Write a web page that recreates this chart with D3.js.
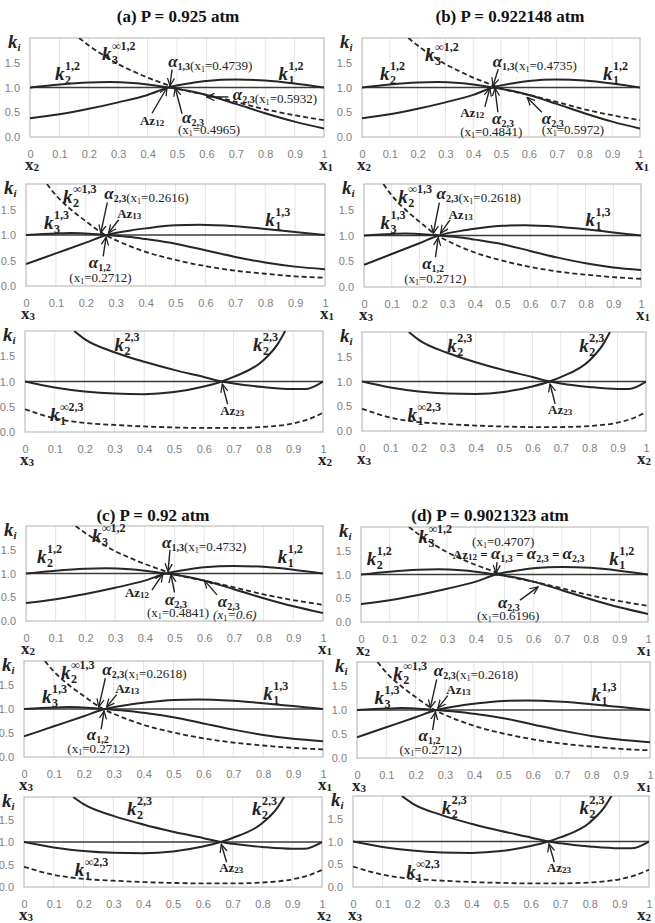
<!DOCTYPE html>
<html>
<head>
<meta charset="utf-8">
<title>k-value diagrams</title>
<script src="https://cdnjs.cloudflare.com/ajax/libs/d3/7.8.5/d3.min.js"></script>
<style>
body{margin:0;background:#fff;}
.kk{font-family:"Liberation Serif",serif;font-weight:bold;font-style:italic;font-size:19px;fill:#222;}
.ss{font-family:"Liberation Serif",serif;font-weight:bold;font-size:12px;fill:#222;}
.ttl{font-family:"Liberation Serif",serif;font-weight:bold;font-size:17px;fill:#111;}
.ser{font-family:"Liberation Serif",serif;fill:#222;}
</style>
</head>
<body>
<script>

// ticks
var xTickVals = [0,0.1,0.2,0.3,0.4,0.5,0.6,0.7,0.8,0.9,1];
var xTickLabels = ["0","0.1","0.2","0.3","0.4","0.5","0.6","0.7","0.8","0.9","1"];
var yTickVals = [0,0.5,1,1.5];
var yTickLabels = ["0.0","0.5","1.0","1.5"];

// binary 1-2 (x axis = x1)
var k1_12X = [0,0.1,0.2,0.3,0.4,0.47,0.55,0.6,0.7,0.8,0.9,1];
var k1_12Y = [0.38,0.46,0.57,0.70,0.85,1.0,1.09,1.13,1.16,1.14,1.08,1.0];
var k2_12X = [0,0.1,0.2,0.27,0.35,0.47,0.55,0.6,0.7,0.8,0.9,1];
var k2_12Y = [1.0,1.06,1.1,1.11,1.09,1.0,0.92,0.85,0.67,0.48,0.31,0.17];
var k3inf_12X = [0.167,0.2,0.25,0.3,0.35,0.4,0.45,0.49,0.55,0.6,0.7,0.8,0.9,1];
var k3inf_12Y = [2.0,1.85,1.65,1.47,1.33,1.2,1.09,1.0,0.91,0.85,0.71,0.56,0.44,0.34];

// binary 1-3 (x axis = x1)
var k1_13X = [0,0.1,0.2,0.27,0.35,0.4,0.5,0.58,0.7,0.8,0.9,1];
var k1_13Y = [0.43,0.64,0.85,1.0,1.09,1.13,1.19,1.2,1.17,1.12,1.06,1.0];
var k3_13X = [0,0.1,0.15,0.2,0.27,0.35,0.4,0.5,0.6,0.7,0.8,0.9,1];
var k3_13Y = [1.0,1.03,1.04,1.03,1.0,0.96,0.92,0.83,0.7,0.57,0.46,0.38,0.33];
var k2inf_13X = [0.07,0.1,0.15,0.2,0.265,0.3,0.4,0.5,0.6,0.7,0.8,0.9,1];
var k2inf_13Y = [2.0,1.78,1.5,1.27,1.0,0.9,0.67,0.51,0.39,0.3,0.24,0.19,0.16];

// binary 2-3 (x axis = x2)
var k2a_23X = [0.165,0.2,0.3,0.4,0.5,0.6,0.66,0.7,0.8,0.9,0.94,1];
var k2a_23Y = [2.0,1.84,1.58,1.39,1.23,1.09,1.0,0.96,0.89,0.85,0.85,1.0];
var k2b_23X = [0,0.1,0.2,0.3,0.4,0.5,0.6,0.66,0.7,0.8,0.85,0.873];
var k2b_23Y = [1.0,0.88,0.8,0.76,0.75,0.79,0.9,1.0,1.09,1.42,1.76,2.0];
var k1inf_23X = [0,0.1,0.2,0.3,0.4,0.5,0.6,0.7,0.8,0.9,0.95,1];
var k1inf_23Y = [0.45,0.27,0.18,0.14,0.11,0.09,0.08,0.08,0.1,0.17,0.25,0.38];

var topSeries = [[k1_12X,k1_12Y,false],[k2_12X,k2_12Y,false],[k3inf_12X,k3inf_12Y,true]];
var midSeries = [[k1_13X,k1_13Y,false],[k3_13X,k3_13Y,false],[k2inf_13X,k2inf_13Y,true]];
var botSeries = [[k2a_23X,k2a_23Y,false],[k2b_23X,k2b_23Y,false],[k1inf_23X,k1inf_23Y,true]];

// annotations (data coords)
var notesATop = [
  {t:"k",x:0.085,y:1.15,sub:"2",sup:"1,2"},
  {t:"k",x:0.245,y:1.56,sub:"3",sup:"\u221e1,2"},
  {t:"k",x:0.845,y:1.15,sub:"1",sup:"1,2"},
  {t:"a",x:0.47,y:1.41,sub:"1,3",v:"0.4739"},
  {t:"arr",x1:0.483,y1:1.36,x2:0.476,y2:1.03},
  {t:"az",x:0.374,y:0.24,sub:"12"},
  {t:"arr",x1:0.415,y1:0.48,x2:0.466,y2:1.0},
  {t:"a",x:0.517,y:0.28,sub:"2,3"},
  {t:"n",x:0.503,y:0.06,v:"0.4965"},
  {t:"arr",x1:0.517,y1:0.47,x2:0.494,y2:0.99},
  {t:"a",x:0.69,y:0.75,sub:"2,3",v:"0.5932"},
  {t:"arr",x1:0.675,y1:0.81,x2:0.6,y2:0.81}
];
var notesBTop = [
  {t:"k",x:0.065,y:1.15,sub:"2",sup:"1,2"},
  {t:"k",x:0.227,y:1.54,sub:"3",sup:"\u221e1,2"},
  {t:"k",x:0.867,y:1.15,sub:"1",sup:"1,2"},
  {t:"a",x:0.47,y:1.41,sub:"1,3",v:"0.4735"},
  {t:"arr",x1:0.49,y1:1.37,x2:0.471,y2:1.03},
  {t:"az",x:0.353,y:0.40,sub:"12"},
  {t:"arr",x1:0.442,y1:0.61,x2:0.46,y2:0.99},
  {t:"a",x:0.468,y:0.26,sub:"2,3"},
  {t:"n",x:0.353,y:0.02,v:"0.4841"},
  {t:"arr",x1:0.489,y1:0.5,x2:0.478,y2:0.99},
  {t:"a",x:0.647,y:0.26,sub:"2,3"},
  {t:"n",x:0.647,y:0.06,v:"0.5972"},
  {t:"arr",x1:0.647,y1:0.5,x2:0.594,y2:0.8}
];
var notesCTop = [
  {t:"k",x:0.037,y:1.22,sub:"2",sup:"1,2"},
  {t:"k",x:0.222,y:1.66,sub:"3",sup:"\u221e1,2"},
  {t:"k",x:0.848,y:1.22,sub:"1",sup:"1,2"},
  {t:"a",x:0.458,y:1.54,sub:"1,3",v:"0.4732"},
  {t:"arr",x1:0.485,y1:1.5,x2:0.478,y2:1.04},
  {t:"az",x:0.333,y:0.5,sub:"12"},
  {t:"arr",x1:0.424,y1:0.65,x2:0.461,y2:0.99},
  {t:"a",x:0.468,y:0.34,sub:"2,3"},
  {t:"n",x:0.407,y:0.08,v:"0.4841"},
  {t:"arr",x1:0.5,y1:0.6,x2:0.488,y2:0.98},
  {t:"a",x:0.646,y:0.29,sub:"2,3"},
  {t:"n",x:0.63,y:0.05,v:"0.6",it:true},
  {t:"arr",x1:0.643,y1:0.55,x2:0.6,y2:0.86}
];
var notesDTop = [
  {t:"k",x:0.02,y:1.2,sub:"2",sup:"1,2"},
  {t:"k",x:0.2,y:1.66,sub:"3",sup:"\u221e1,2"},
  {t:"k",x:0.865,y:1.2,sub:"1",sup:"1,2"},
  {t:"n",x:0.387,y:1.6,v:"0.4707"},
  {t:"eq",x:0.32,y:1.33},
  {t:"arr",x1:0.474,y1:1.26,x2:0.47,y2:1.03},
  {t:"a",x:0.477,y:0.29,sub:"2,3"},
  {t:"n",x:0.404,y:0.05,v:"0.6196"},
  {t:"arr",x1:0.554,y1:0.46,x2:0.617,y2:0.74}
];
function midNotes(v){
  return [
    {t:"k",x:0.124,y:1.63,sub:"2",sup:"\u221e1,3"},
    {t:"k",x:0.06,y:1.12,sub:"3",sup:"1,3"},
    {t:"k",x:0.8,y:1.18,sub:"1",sup:"1,3"},
    {t:"a",x:0.262,y:1.70,sub:"2,3",v:v},
    {t:"arr",x1:0.272,y1:1.64,x2:0.25,y2:1.04},
    {t:"az",x:0.305,y:1.33,sub:"13"},
    {t:"arr",x1:0.31,y1:1.3,x2:0.276,y2:1.04},
    {t:"a",x:0.21,y:0.35,sub:"1,2"},
    {t:"n",x:0.145,y:0.08,v:"0.2712"},
    {t:"arr",x1:0.258,y1:0.58,x2:0.268,y2:0.96}
  ];
}
function botNotes(k2x,kinfx,kinfy){
  return [
    {t:"k",x:k2x,y:1.6,sub:"2",sup:"2,3"},
    {t:"k",x:0.765,y:1.6,sub:"2",sup:"2,3"},
    {t:"az",x:0.655,y:0.34,sub:"23"},
    {t:"arr",x1:0.68,y1:0.55,x2:0.662,y2:0.95},
    {t:"k",x:kinfx,y:kinfy,sub:"1",sup:"\u221e2,3"}
  ];
}

var panels = [
  {box:[30,38,324,137],  s:topSeries, ends:["2","1"], notes:notesATop},
  {box:[26,184,325,286], s:midSeries, ends:["3","1"], notes:midNotes("0.2616")},
  {box:[25,331,323,432], s:botSeries, ends:["3","2"], notes:botNotes(0.30,0.084,0.22)},
  {box:[362,38,640,137], s:topSeries, ends:["2","1"], notes:notesBTop},
  {box:[364,184,641,287],s:midSeries, ends:["3","1"], notes:midNotes("0.2618")},
  {box:[362,332,646,431],s:botSeries, ends:["3","2"], notes:botNotes(0.30,0.16,0.2)},
  {box:[26,526,323,621], s:topSeries, ends:["2","1"], notes:notesCTop},
  {box:[24,661,323,757], s:midSeries, ends:["3","1"], notes:midNotes("0.2618")},
  {box:[24,797,322,887], s:botSeries, ends:["3","2"], notes:botNotes(0.346,0.17,0.25)},
  {box:[361,527,648,622],s:topSeries, ends:["2","1"], notes:notesDTop},
  {box:[357,662,650,758],s:midSeries, ends:["3","1"], notes:midNotes("0.2618")},
  {box:[353,796,649,887],s:botSeries, ends:["3","2"], notes:botNotes(0.30,0.18,0.2)}
];

var titles = [
  {text:"(a) P = 0.925 atm", x:178, y:22},
  {text:"(b) P = 0.922148 atm", x:510, y:22},
  {text:"(c) P = 0.92 atm", x:153, y:521},
  {text:"(d) P = 0.9021323 atm", x:490, y:521}
];

var svg = d3.select("body").append("svg")
  .attr("width",655).attr("height",923)
  .style("background","#fff");
var defs = svg.append("defs");
defs.append("marker").attr("id","ah")
  .attr("viewBox","0 -5 10 10").attr("refX",9).attr("refY",0)
  .attr("markerWidth",9).attr("markerHeight",9)
  .attr("markerUnits","userSpaceOnUse").attr("orient","auto")
  .append("path").attr("d","M0,-4L9,0L0,4")
  .attr("fill","none").attr("stroke","#222").attr("stroke-width",1.4);

svg.selectAll(".ttl").data(titles).join("text")
  .attr("class","ttl").attr("text-anchor","middle")
  .attr("x",function(d){return d.x}).attr("y",function(d){return d.y})
  .text(function(d){return d.text});

function xNote(t, v, size, it){
  t.append("tspan").attr("font-size",size).attr("font-weight","normal")
    .attr("font-style",it?"italic":"normal").text("(x");
  t.append("tspan").attr("font-size",size*0.62).attr("font-weight","normal").attr("dy",2).text("1");
  t.append("tspan").attr("font-size",size).attr("font-weight","normal")
    .attr("font-style",it?"italic":"normal").attr("dy",-2).text("="+v+")");
}
function alpha(t, sub, dyBack){
  t.append("tspan").attr("font-size",17).attr("font-weight","bold").attr("font-style","italic")
    .attr("dy",dyBack).text("\u03b1");
  t.append("tspan").attr("font-size",10).attr("font-weight","bold").attr("font-style","normal")
    .attr("dy",3).text(sub);
}

panels.forEach(function(p, i){
  var L=p.box[0], T=p.box[1], R=p.box[2], B=p.box[3];
  var x = d3.scaleLinear().domain([0,1]).range([L,R]);
  var y = d3.scaleLinear().domain([0,2]).range([B,T]);
  var g = svg.append("g");

  defs.append("clipPath").attr("id","clip"+i)
    .append("rect").attr("x",L).attr("y",T).attr("width",R-L).attr("height",B-T);

  // vertical grid
  g.selectAll(".vg").data(xTickVals.slice(1,-1)).join("line")
    .attr("x1",function(d){return x(d)}).attr("x2",function(d){return x(d)})
    .attr("y1",T).attr("y2",B).attr("stroke","#e4e4e4").attr("stroke-width",1);

  g.append("rect").attr("x",L).attr("y",T).attr("width",R-L).attr("height",B-T)
    .attr("fill","none").attr("stroke","#bdbdbd").attr("stroke-width",1.2);

  // k = 1 line
  g.append("line").attr("x1",x(0)).attr("x2",x(1)).attr("y1",y(1)).attr("y2",y(1))
    .attr("stroke","#3a3a3a").attr("stroke-width",1.3);

  var line = d3.line()
    .x(function(d){return x(d[0])}).y(function(d){return y(d[1])})
    .curve(d3.curveMonotoneX);
  var cg = g.append("g").attr("clip-path","url(#clip"+i+")");
  p.s.forEach(function(s){
    var pts = s[0].map(function(v,j){return [v, s[1][j]]});
    cg.append("path").attr("d",line(pts)).attr("fill","none")
      .attr("stroke","#262626").attr("stroke-width",s[2]?1.8:2)
      .attr("stroke-dasharray",s[2]?"5,3":null);
  });

  // axes
  var ax = g.append("g").attr("transform","translate(0,"+B+")")
    .call(d3.axisBottom(x).tickValues(xTickVals)
      .tickFormat(function(d,j){return xTickLabels[j]}).tickSize(0).tickPadding(13));
  ax.select(".domain").remove();
  ax.selectAll("text").attr("fill","#808080").attr("font-size",11)
    .attr("font-family","'Liberation Sans',Arial,sans-serif");

  var ay = g.append("g").attr("transform","translate("+L+",0)")
    .call(d3.axisLeft(y).tickValues(yTickVals)
      .tickFormat(function(d,j){return yTickLabels[j]}).tickSize(0).tickPadding(10));
  ay.select(".domain").remove();
  ay.selectAll("text").attr("fill","#808080").attr("font-size",11)
    .attr("font-family","'Liberation Sans',Arial,sans-serif");

  // k_i label
  var ki = g.append("text").attr("class","kk").attr("x",L-22).attr("y",T+10).attr("font-size",17).text("k");
  ki.append("tspan").attr("font-size",11).attr("dy",3).text("i");

  // x end labels
  p.ends.forEach(function(e, j){
    var t = g.append("text").attr("class","ser").attr("font-weight","bold")
      .attr("x", j===0 ? L-5 : Math.min(R-5, 637)).attr("y",B+33);
    t.append("tspan").attr("font-size",17).text("x");
    t.append("tspan").attr("font-size",11).attr("dy",1).text(e);
  });

  // annotations
  var ng = g.append("g");
  p.notes.forEach(function(n){
    if(n.t==="k"){
      var px=x(n.x), py=y(n.y);
      ng.append("text").attr("class","kk").attr("x",px).attr("y",py).text("k");
      ng.append("text").attr("class","ss").attr("x",px+10).attr("y",py-10).text(n.sup);
      ng.append("text").attr("class","ss").attr("x",px+10).attr("y",py+4).text(n.sub);
    } else if(n.t==="a"){
      var t = ng.append("text").attr("class","ser").attr("x",x(n.x)).attr("y",y(n.y));
      alpha(t, n.sub, 0);
      if(n.v){ t.append("tspan").attr("dy",-3); xNote(t, n.v, 13, false); }
    } else if(n.t==="n"){
      var t2 = ng.append("text").attr("class","ser").attr("fill","#333").attr("x",x(n.x)).attr("y",y(n.y));
      xNote(t2, n.v, 13, n.it);
    } else if(n.t==="az"){
      var t3 = ng.append("text").attr("class","ser").attr("font-weight","bold").attr("x",x(n.x)).attr("y",y(n.y));
      t3.append("tspan").attr("font-size",13).text("Az");
      t3.append("tspan").attr("font-size",9).attr("dy",1).text(n.sub);
    } else if(n.t==="eq"){
      var t4 = ng.append("text").attr("class","ser").attr("font-weight","bold").attr("x",x(n.x)).attr("y",y(n.y));
      t4.append("tspan").attr("font-size",13).text("Az");
      t4.append("tspan").attr("font-size",9).attr("dy",1).text("12");
      t4.append("tspan").attr("font-size",13).attr("dy",-1).text(" = ");
      alpha(t4, "1,3", 0);
      t4.append("tspan").attr("font-size",13).attr("dy",-3).text(" = ");
      alpha(t4, "2,3", 0);
      t4.append("tspan").attr("font-size",13).attr("dy",-3).text(" = ");
      alpha(t4, "2,3", 0);
    } else if(n.t==="arr"){
      ng.append("line").attr("x1",x(n.x1)).attr("y1",y(n.y1))
        .attr("x2",x(n.x2)).attr("y2",y(n.y2))
        .attr("stroke","#222").attr("stroke-width",1.4)
        .attr("marker-end","url(#ah)");
    }
  });
});

</script>
</body>
</html>
